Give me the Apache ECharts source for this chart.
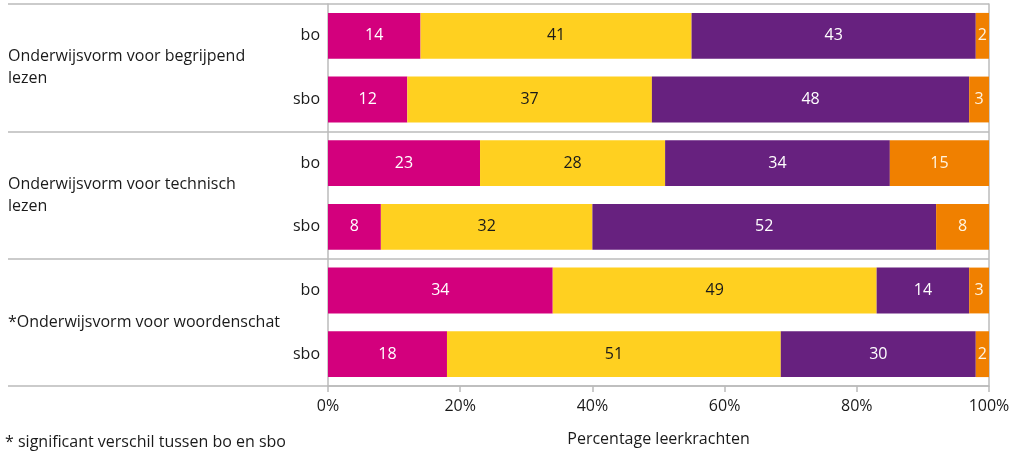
<!DOCTYPE html>
<html>
<head>
<meta charset="utf-8">
<script src="https://cdn.jsdelivr.net/npm/echarts@6/dist/echarts.min.js"></script>
<style>html,body{margin:0;padding:0;background:#fff}#c{width:1021px;height:454px}</style>
</head>
<body>
<div id="c"></div>
<script>
var groups = ['Onderwijsvorm voor begrijpend\nlezen', 'Onderwijsvorm voor technisch\nlezen', '*Onderwijsvorm voor woordenschat'];
var rows = ['bo', 'sbo', 'bo', 'sbo', 'bo', 'sbo'];
var xTicks = [0, 20, 40, 60, 80, 100];
var seriesNames = ['s1', 's2', 's3', 's4'];
var s1 = [14, 12, 23, 8, 34, 18];
var s2 = [41, 37, 28, 32, 49, 50.5];
var s3 = [43, 48, 34, 52, 14, 29.5];
var s4 = [2, 3, 15, 8, 3, 2];
var colors = ['#D3007D', '#FFD020', '#67217F', '#F08000'];
var labelColors = ['#ffffff', '#1a1a1a', '#ffffff', '#fff4e0'];
var footnote = '* significant verschil tussen bo en sbo';
var xName = 'Percentage leerkrachten';

var FONT = 'Open Sans';
var FS = 16;
var lineC = '#BBBBBB';
var chart = echarts.init(document.getElementById('c'));
var data = [s1, s2, s3, s4];
var series = data.map(function (d, i) {
  return {
    name: seriesNames[i], type: 'bar', stack: 'a', data: d,
    barCategoryGap: '28%',
    itemStyle: { color: colors[i] },
    label: { show: true, position: 'inside', color: labelColors[i], fontFamily: FONT, fontSize: FS,
      formatter: function (p) { return Math.round(p.value); } }
  };
});
chart.setOption({
  animation: false,
  title: { text: footnote, left: 0, top: 429, textStyle: { fontFamily: FONT, fontSize: FS, fontWeight: 'normal', color: '#1a1a1a' } },
  grid: { left: 328, right: 32, top: 4, bottom: 68 },
  xAxis: {
    type: 'value', min: 0, max: 100, interval: 20,
    name: xName, nameLocation: 'middle', nameGap: 45,
    nameTextStyle: { fontFamily: FONT, fontSize: FS, color: '#1a1a1a' },
    axisLine: { show: true, lineStyle: { color: lineC, width: 1.5 } },
    axisTick: { show: true, length: 6, lineStyle: { color: lineC, width: 1.5 } },
    axisLabel: { margin: 12, fontFamily: FONT, fontSize: FS, color: '#1a1a1a', formatter: '{value}%',
      customValues: xTicks },
    splitLine: { show: false }
  },
  yAxis: [
    {
      type: 'category', inverse: true, data: rows, position: 'left',
      axisLine: { show: true, lineStyle: { color: lineC, width: 1.5 } },
      axisTick: { show: false },
      axisLabel: { interval: 0, margin: 8, fontFamily: FONT, fontSize: FS, color: '#1a1a1a' },
      splitLine: { show: false }
    },
    {
      type: 'category', inverse: true, data: groups, position: 'right',
      axisLine: { show: true, lineStyle: { color: lineC, width: 1.5 } },
      axisTick: { show: false },
      axisLabel: { show: false },
      splitLine: { show: true, interval: 0, lineStyle: { color: lineC, width: 1.5 } }
    },
    {
      type: 'category', inverse: true, data: groups, position: 'left',
      axisLine: { show: false },
      axisTick: { show: true, interval: 0, length: 320, inside: false, lineStyle: { color: lineC, width: 1.5 } },
      axisLabel: { interval: 0, margin: 320, align: 'left', fontFamily: FONT, fontSize: FS, lineHeight: 22, color: '#1a1a1a' },
      splitLine: { show: false }
    }
  ],
  series: series
});
</script>
</body>
</html>
